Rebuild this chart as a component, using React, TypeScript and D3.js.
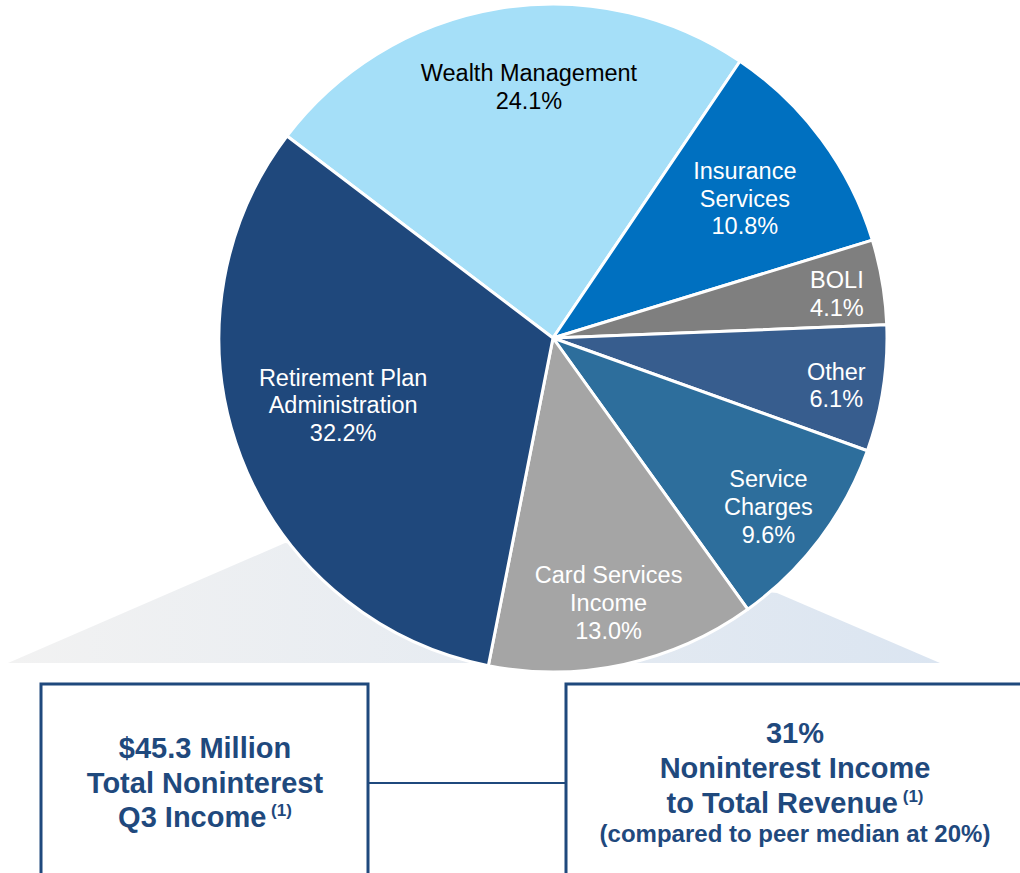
import React from "react";
import * as d3 from "d3";

const categories = [
  ["Wealth Management"],
  ["Insurance", "Services"],
  ["BOLI"],
  ["Other"],
  ["Service", "Charges"],
  ["Card Services", "Income"],
  ["Retirement Plan", "Administration"],
];
const values = [24.1, 10.8, 4.1, 6.1, 9.6, 13.0, 32.2];
const valueLabels = ["24.1%", "10.8%", "4.1%", "6.1%", "9.6%", "13.0%", "32.2%"];
const colors = ["#a5dff8", "#0070c0", "#7f7f7f", "#375d8e", "#2d6e9c", "#a5a5a5", "#1f487c"];
const textColors = ["#000000", "#ffffff", "#ffffff", "#ffffff", "#ffffff", "#ffffff", "#ffffff"];
const labelRadius = [0.755, 0.71, 0.86, 0.86, 0.82, 0.81, 0.66];
const labelAngleShift = [3.9, 0.5, 0.9, 0.8, 1.1, 0.4, 3.0];

const W = 1020;
const H = 873;
const cx = 553;
const cy = 338;
const R = 334;
const startDeg = -52.8;
const FONT = "'Liberation Sans', Arial, sans-serif";

export default function App() {
  const pie = d3
    .pie<number>()
    .sort(null)
    .value((d) => d)
    .startAngle((startDeg * Math.PI) / 180)
    .endAngle((startDeg * Math.PI) / 180 + 2 * Math.PI);
  const arcs = pie(values);
  const arc = d3.arc<d3.PieArcDatum<number>>().innerRadius(0).outerRadius(R);

  const navy = "#1f497d";
  const lineH = 27.8;

  return (
    <svg
      width={W}
      height={H}
      style={{ position: "absolute", left: 0, top: 0, background: "#fff" }}
      fontFamily={FONT}
    >
      <defs>
        <linearGradient id="bg" x1="0" x2="1" y1="0" y2="0">
          <stop offset="0%" stopColor="#f2f2f2" />
          <stop offset="100%" stopColor="#dbe5f1" />
        </linearGradient>
      </defs>
      <polygon points="8,663 285,543 777,593 940,663" fill="url(#bg)" />
      <g transform={`translate(${cx},${cy})`}>
        {arcs.map((a, i) => (
          <path key={i} d={arc(a) || ""} fill={colors[i]} stroke="#fff" strokeWidth={3} strokeLinejoin="round" />
        ))}
        {arcs.map((a, i) => {
          const mid = (a.startAngle + a.endAngle) / 2 + (labelAngleShift[i] * Math.PI) / 180;
          const r = R * labelRadius[i];
          const x = Math.sin(mid) * r;
          const y = -Math.cos(mid) * r;
          const lines = [...categories[i], valueLabels[i]];
          const y0 = y - ((lines.length - 1) * lineH) / 2 + 8;
          return (
            <text key={i} x={x} y={y0} textAnchor="middle" fontSize={23.5} fill={textColors[i]}>
              {lines.map((t, j) => (
                <tspan key={j} x={x} y={y0 + j * lineH}>{t}</tspan>
              ))}
            </text>
          );
        })}
      </g>

      <line x1={368} x2={565} y1={783} y2={783} stroke={navy} strokeWidth={2} />
      <rect x={41} y={684} width={327} height={230} fill="#fff" stroke={navy} strokeWidth={3} />
      <rect x={566} y={684} width={500} height={230} fill="#fff" stroke={navy} strokeWidth={3} />

      <g fill={navy} fontWeight="bold" textAnchor="middle">
        <text x={205} y={758} fontSize={29}>$45.3 Million</text>
        <text x={205} y={793} fontSize={29}>Total Noninterest</text>
        <text x={205} y={827} fontSize={29}>
          Q3 Income<tspan fontSize={17} dy={-11}> (1)</tspan>
        </text>
        <text x={795} y={743} fontSize={29}>31%</text>
        <text x={795} y={778} fontSize={29}>Noninterest Income</text>
        <text x={795} y={813} fontSize={29}>
          to Total Revenue<tspan fontSize={17} dy={-11}> (1)</tspan>
        </text>
        <text x={795} y={842} fontSize={24}>(compared to peer median at 20%)</text>
      </g>
    </svg>
  );
}
